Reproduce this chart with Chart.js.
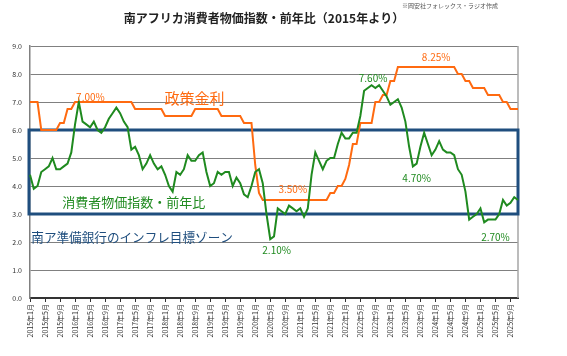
<!DOCTYPE html>
<html><head><meta charset="utf-8">
<script src="https://cdn.jsdelivr.net/npm/chart.js@4/dist/chart.umd.min.js"></script>
<style>html,body{margin:0;padding:0;background:#fff;}#wrap{width:567px;height:356px;position:relative;}canvas{display:block;}</style>
</head><body><div id="wrap"><canvas id="c" width="567" height="356" style="width:567px;height:356px;"></canvas></div>
<script>
// ---- categories ----
const years = [2015,2016,2017,2018,2019,2020,2021,2022,2023,2024,2025];
const lastMonth2025 = 11;
const labels = [];
years.forEach(y => { const n = (y === 2025) ? lastMonth2025 : 12; for (let m = 1; m <= n; m++) labels.push(y + '年' + m + '月'); });

// ---- CPI YoY (%) ----
const cpiYoY = [
  4.4, 3.9, 4.0, 4.5, 4.6, 4.7, 5.0, 4.6, 4.6, 4.7, 4.8, 5.2,
  6.2, 7.0, 6.3, 6.2, 6.1, 6.3, 6.0, 5.9, 6.1, 6.4, 6.6, 6.8,
  6.6, 6.3, 6.1, 5.3, 5.4, 5.1, 4.6, 4.8, 5.1, 4.8, 4.6, 4.7,
  4.4, 4.0, 3.8, 4.5, 4.4, 4.6, 5.1, 4.9, 4.9, 5.1, 5.2, 4.5,
  4.0, 4.1, 4.5, 4.4, 4.5, 4.5, 4.0, 4.3, 4.1, 3.7, 3.6, 4.0,
  4.5, 4.6, 4.1, 3.0, 2.1, 2.2, 3.2, 3.1, 3.0, 3.3, 3.2, 3.1,
  3.2, 2.9, 3.2, 4.4, 5.2, 4.9, 4.6, 4.9, 5.0, 5.0, 5.5, 5.9,
  5.7, 5.7, 5.9, 5.9, 6.5, 7.4, 7.5, 7.6, 7.5, 7.6, 7.4, 7.2,
  6.9, 7.0, 7.1, 6.8, 6.3, 5.4, 4.7, 4.8, 5.4, 5.9, 5.5, 5.1,
  5.3, 5.6, 5.3, 5.2, 5.2, 5.1, 4.6, 4.4, 3.8, 2.8, 2.9, 3.0,
  3.2, 2.7, 2.8, 2.8, 2.8, 3.0, 3.5, 3.3, 3.4, 3.6, 3.5
];

// ---- Policy rate (%) ----
const policyRate = [
  7.0, 7.0, 7.0, 6.0, 6.0, 6.0, 6.0, 6.0, 6.25, 6.25, 6.75, 6.75,
  7.0, 7.0, 7.0, 7.0, 7.0, 7.0, 7.0, 7.0, 7.0, 7.0, 7.0, 7.0,
  7.0, 7.0, 7.0, 7.0, 6.75, 6.75, 6.75, 6.75, 6.75, 6.75, 6.75, 6.75,
  6.5, 6.5, 6.5, 6.5, 6.5, 6.5, 6.5, 6.5, 6.75, 6.75, 6.75, 6.75,
  6.75, 6.75, 6.75, 6.5, 6.5, 6.5, 6.5, 6.5, 6.5, 6.25, 6.25, 6.25,
  4.75, 3.75, 3.5, 3.5, 3.5, 3.5, 3.5, 3.5, 3.5, 3.5, 3.5, 3.5,
  3.5, 3.5, 3.5, 3.5, 3.5, 3.5, 3.5, 3.5, 3.75, 3.75, 4.0, 4.0,
  4.25, 4.75, 5.5, 5.5, 6.25, 6.25, 6.25, 6.25, 7.0, 7.0, 7.25, 7.25,
  7.75, 7.75, 8.25, 8.25, 8.25, 8.25, 8.25, 8.25, 8.25, 8.25, 8.25, 8.25,
  8.25, 8.25, 8.25, 8.25, 8.25, 8.25, 8.0, 8.0, 7.75, 7.75, 7.5, 7.5,
  7.5, 7.5, 7.25, 7.25, 7.25, 7.25, 7.0, 7.0, 6.75, 6.75, 6.75
];

// ---- Y tick values ----
const yTicks = [0,1,2,3,4,5,6,7,8,9];
const targetZone = [3, 6];

const JP = '"Noto Sans CJK JP", "Noto Sans", sans-serif';
const GREEN = '#1f8a1f';
const ORANGE = '#ff6a10';
const BLUE = '#1f4e7e';

const notes = [
  {t:'7.00%', i:16.1, v:7.18, c:ORANGE, f:'10px ' + JP, a:'center'},
  {t:'政策金利', i:43.8, v:7.14, c:ORANGE, f:'15px ' + JP, a:'center'},
  {t:'8.25%', i:108.2, v:8.61, c:ORANGE, f:'10px ' + JP, a:'center'},
  {t:'3.50%', i:70.0, v:3.89, c:ORANGE, f:'10px ' + JP, a:'center'},
  {t:'7.60%', i:91.4, v:7.86, c:GREEN, f:'10px ' + JP, a:'center'},
  {t:'4.70%', i:103.0, v:4.29, c:GREEN, f:'10px ' + JP, a:'center'},
  {t:'2.10%', i:65.7, v:1.71, c:GREEN, f:'10px ' + JP, a:'center'},
  {t:'2.70%', i:124.0, v:2.18, c:GREEN, f:'10px ' + JP, a:'center'},
  {t:'消費者物価指数・前年比', i:8.6, v:3.43, c:GREEN, f:'13px ' + JP, a:'left'},
  {t:'南ア準備銀行のインフレ目標ゾーン', i:0.35, v:2.18, c:BLUE, f:'12.6px ' + JP, a:'left'}
];

const deco = {
  id: 'deco',
  beforeDatasetsDraw(chart) {
    const {ctx, chartArea:a, scales:{x, y}} = chart;
    ctx.save();
    ctx.strokeStyle = '#a6a6a6'; ctx.lineWidth = 1.5;
    ctx.beginPath(); ctx.moveTo(a.right, a.top); ctx.lineTo(a.right, a.bottom); ctx.stroke();
    const yt = y.getPixelForValue(targetZone[1]), yb = y.getPixelForValue(targetZone[0]);
    ctx.strokeStyle = BLUE; ctx.lineWidth = 3;
    ctx.strokeRect(a.left - 1, yt, a.right - a.left + 1, yb - yt);
    ctx.restore();
  },
  afterDraw(chart) {
    const {ctx, scales:{x, y}} = chart;
    ctx.save();
    ctx.textBaseline = 'middle';
    ctx.fillStyle = '#222';
    ctx.font = 'bold 12px ' + JP;
    ctx.textAlign = 'center';
    ctx.fillText('南アフリカ消費者物価指数・前年比（2015年より）', 264, 18);
    ctx.font = '6px ' + JP;
    ctx.fillStyle = '#555';
    ctx.fillText('※岡安社フォレックス・ラジオ作成', 450, 6);
    notes.forEach(n => {
      ctx.font = n.f; ctx.fillStyle = n.c; ctx.textAlign = n.a;
      const px = x.left + (x.right - x.left) * n.i / (labels.length - 1);
      ctx.fillText(n.t, px, y.getPixelForValue(n.v));
    });
    ctx.restore();
  }
};

new Chart(document.getElementById('c'), {
  type: 'line',
  data: {
    labels: labels,
    datasets: [
      {label:'消費者物価指数・前年比', data: cpiYoY, borderColor: GREEN, borderWidth: 2, pointRadius: 0, tension: 0, fill: false, order: 0},
      {label:'政策金利', data: policyRate, borderColor: ORANGE, borderWidth: 2, pointRadius: 0, tension: 0, fill: false, order: 1}
    ]
  },
  options: {
    responsive: false,
    animation: false,
    devicePixelRatio: 1,
    layout: {padding: {top: 46, right: 49, left: 0, bottom: 0}},
    plugins: {legend: {display: false}, title: {display: false}, tooltip: {enabled: false}},
    scales: {
      x: {
        type: 'category', offset: false,
        grid: {drawOnChartArea: false, drawTicks: true, tickLength: 4,
               color: c => (c.index % 4 === 0) ? '#333' : 'rgba(0,0,0,0)'},
        border: {display: true, color: '#333', width: 2},
        ticks: {autoSkip: false, maxRotation: 90, minRotation: 90, padding: 2,
                font: {size: 7, family: JP}, color: '#333',
                callback: (v, i) => (i % 4 === 0) ? labels[i] : ''},
        afterFit: s => { s.height = 58; }
      },
      y: {
        min: 0, max: 9,
        afterBuildTicks: s => { s.ticks = yTicks.map(v => ({value: v})); },
        grid: {color: '#808080', lineWidth: 1, drawTicks: false},
        border: {display: true, color: '#808080', width: 1.5},
        ticks: {padding: 8, font: {size: 7, family: JP}, color: '#333', callback: v => Number(v).toFixed(1)},
        afterFit: s => { s.width = 30; }
      }
    }
  },
  plugins: [deco]
});
</script>
</body></html>
